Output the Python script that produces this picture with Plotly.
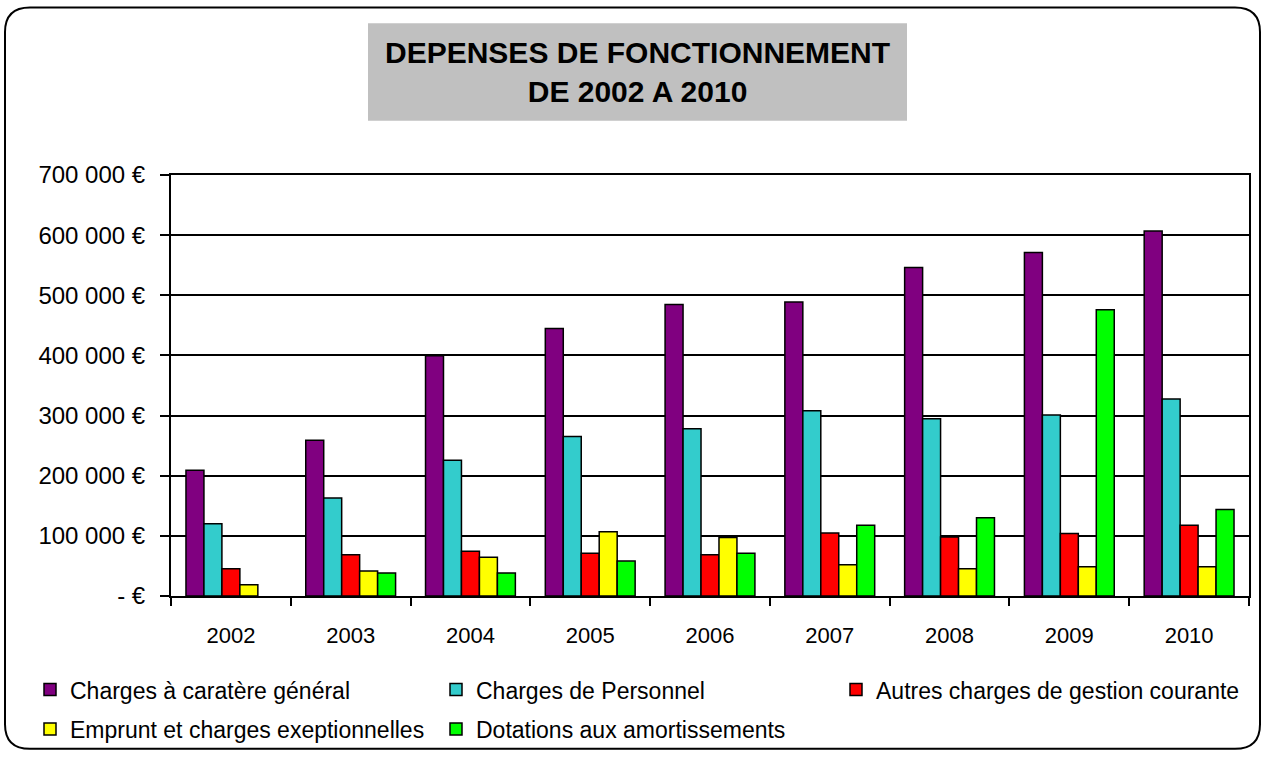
import plotly.graph_objects as go

# data
years = ["2002", "2003", "2004", "2005", "2006", "2007", "2008", "2009", "2010"]
charges_generales = [209000, 259000, 399500, 444700, 484700, 489000, 546000, 571000, 607000]
charges_personnel = [120000, 163000, 225600, 265000, 278000, 308000, 294600, 301000, 327500]
autres_charges = [45500, 68500, 74400, 71200, 68500, 104600, 98000, 104000, 117800]
emprunt = [18600, 41600, 64600, 107000, 97400, 52000, 45500, 48800, 48800]
dotations = [None, 38300, 38300, 58000, 71200, 117800, 130000, 476000, 144000]

y_tickvals = [0, 100000, 200000, 300000, 400000, 500000, 600000, 700000]
y_ticktext = ["- €", "100 000 €", "200 000 €", "300 000 €", "400 000 €",
              "500 000 €", "600 000 €", "700 000 €"]

series = [
    ("Charges à caratère général", charges_generales, "#800080"),
    ("Charges de Personnel", charges_personnel, "#33CCCC"),
    ("Autres charges de gestion courante", autres_charges, "#FF0000"),
    ("Emprunt et charges exeptionnelles", emprunt, "#FFFF00"),
    ("Dotations aux amortissements", dotations, "#00FF00"),
]

W, H = 1265, 762
L, R, T, B = 171, 1249, 175, 602  # plot area in pixels
FONT = "Liberation Sans, Arial, sans-serif"


def px(x):
    return (x - L) / (R - L)


def py(y):
    return (B - y) / (B - T)


# legend grid (pixel positions of each entry)
legend_pos = [(30, 697), (436, 697), (836, 697), (30, 737), (436, 737)]

fig = go.Figure()
legends = {}
for i, (name, values, color) in enumerate(series):
    key = "legend" if i == 0 else f"legend{i + 1}"
    fig.add_trace(go.Bar(
        x=years, y=values, name=name, legend=key,
        marker=dict(color=color, line=dict(color="black", width=1.5)),
    ))
    lx, ly = legend_pos[i]
    legends[key] = dict(
        x=px(lx), y=py(ly), xanchor="left", yanchor="middle",
        bgcolor="rgba(0,0,0,0)", font=dict(family=FONT, size=23, color="black"),
    )

# rounded outer frame
x0, y0, x1, y1, r = 5, 5, 1260, 757, 25
frame = (
    f"M {px(x0 + r)},{py(y0)} L {px(x1 - r)},{py(y0)} "
    f"Q {px(x1)},{py(y0)} {px(x1)},{py(y0 + r)} L {px(x1)},{py(y1 - r)} "
    f"Q {px(x1)},{py(y1)} {px(x1 - r)},{py(y1)} L {px(x0 + r)},{py(y1)} "
    f"Q {px(x0)},{py(y1)} {px(x0)},{py(y1 - r)} L {px(x0)},{py(y0 + r)} "
    f"Q {px(x0)},{py(y0)} {px(x0 + r)},{py(y0)} Z"
)

fig.update_layout(
    width=W, height=H,
    margin=dict(l=L, r=W - R, t=T, b=H - B),
    paper_bgcolor="white", plot_bgcolor="white",
    font=dict(family=FONT, size=22, color="black"),
    showlegend=True,
    bargap=0.25, bargroupgap=0,
    shapes=[
        dict(type="path", path=frame, xref="paper", yref="paper",
             line=dict(color="black", width=2)),
        dict(type="rect", xref="paper", yref="paper",
             x0=px(368), x1=px(907), y0=py(120), y1=py(21),
             fillcolor="#C0C0C0", line=dict(width=0), layer="below"),
    ],
    annotations=[
        dict(text="<b>DEPENSES DE FONCTIONNEMENT<br>DE 2002 A 2010</b>",
             x=px(637.5), y=py(70.5), xref="paper", yref="paper",
             xanchor="center", yanchor="middle", showarrow=False,
             font=dict(family=FONT, size=30, color="black")),
    ],
    **legends,
)

fig.update_xaxes(
    type="category", tickson="boundaries", ticks="outside", ticklen=8,
    tickwidth=2, tickcolor="black", showline=True, linecolor="black",
    linewidth=2, mirror=True, showgrid=False, ticklabelstandoff=19,
    tickfont=dict(size=22),
)
fig.update_yaxes(
    range=[0, 700000], tickvals=y_tickvals, ticktext=y_ticktext,
    ticks="outside", ticklen=9, tickwidth=2, tickcolor="black",
    showline=True, linecolor="black", linewidth=2, mirror=True,
    showgrid=True, gridcolor="black", gridwidth=1.5, zeroline=False,
    ticklabelstandoff=10, tickfont=dict(size=24),
)

# the page body has a default 8px margin; drop it so the figure fills the window
fig.write_html("out.html", config={"displayModeBar": False},
               post_script="document.body.style.margin='0';")
